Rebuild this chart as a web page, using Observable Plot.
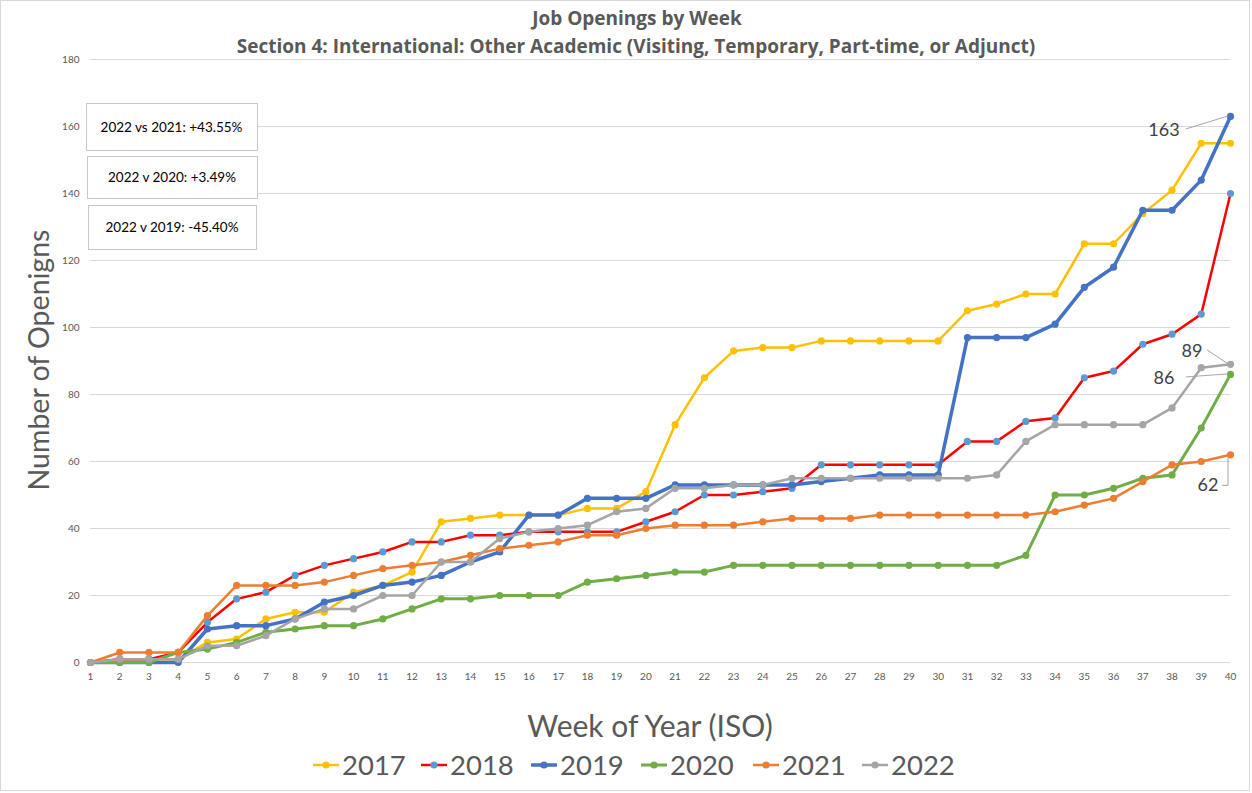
<!DOCTYPE html>
<html><head><meta charset="utf-8">
<script src="https://cdn.jsdelivr.net/npm/d3@7"></script>
<script src="https://cdn.jsdelivr.net/npm/@observablehq/plot@0.6"></script>
<style>
body{margin:0;background:#fff;}
#chart{width:1252px;height:793px;}
</style>
</head><body><div id="chart"></div>
<script>
const weeks = d3.range(1, 41);
const years = ["2017", "2018", "2019", "2020", "2021", "2022"];
const v2017 = [0,1,1,1,6,7,13,15,15,21,23,27,42,43,44,44,44,46,46,51,71,85,93,94,94,96,96,96,96,96,105,107,110,110,125,125,134,141,155,155];
const v2018 = [0,1,1,3,12,19,21,26,29,31,33,36,36,38,38,39,39,39,39,42,45,50,50,51,52,59,59,59,59,59,66,66,72,73,85,87,95,98,104,140];
const v2019 = [0,0,0,0,10,11,11,13,18,20,23,24,26,30,33,44,44,49,49,49,53,53,53,53,53,54,55,56,56,56,97,97,97,101,112,118,135,135,144,163];
const v2020 = [0,0,0,3,4,6,9,10,11,11,13,16,19,19,20,20,20,24,25,26,27,27,29,29,29,29,29,29,29,29,29,29,32,50,50,52,55,56,70,86];
const v2021 = [0,3,3,3,14,23,23,23,24,26,28,29,30,32,34,35,36,38,38,40,41,41,41,42,43,43,43,44,44,44,44,44,44,45,47,49,54,59,60,62];
const v2022 = [0,1,1,1,5,5,8,13,16,16,20,20,30,30,37,39,40,41,45,46,52,52,53,53,55,55,55,55,55,55,55,56,66,71,71,71,71,76,88,89];
const seriesValues = [v2017, v2018, v2019, v2020, v2021, v2022];
const lineColors = ["#FFC000", "#FF0000", "#4472C4", "#70AD47", "#ED7D31", "#A5A5A5"];
const markerColors = ["#FFC000", "#5B9BD5", "#4472C4", "#70AD47", "#ED7D31", "#A5A5A5"];
const lineWidths = [2.5, 2.5, 3.5, 3, 2.5, 2.5];
const yTicks = d3.range(0, 181, 20);
const comparisons = ["2022 vs 2021: +43.55%", "2022 v 2020: +3.49%", "2022 v 2019: -45.40%"];
const endLabels = [
  {year: "2019", value: 163, dx: -66, dy: 14},
  {year: "2022", value: 89, dx: -38, dy: -13},
  {year: "2020", value: 86, dx: -66, dy: 4},
  {year: "2021", value: 62, dx: -22, dy: 31}
];

const table = years.flatMap((yr, i) => weeks.map((w, j) => ({year: yr, week: w, value: seriesValues[i][j]})));

const seriesMarks = years.flatMap((yr, i) => {
  const d = table.filter(r => r.year === yr);
  return [
    Plot.line(d, {x: "week", y: "value", stroke: lineColors[i], strokeWidth: lineWidths[i], strokeLinejoin: "round"}),
    Plot.dot(d, {x: "week", y: "value", fill: markerColors[i], r: 3.6, stroke: "none"})
  ];
});

const FONT = "Lato, 'Open Sans', sans-serif";
const TFONT = "'Open Sans', Lato, sans-serif";
const W = 1252, H = 793;
const plot = Plot.plot({
  width: W, height: H,
  marginLeft: 90, marginRight: 22, marginTop: 59, marginBottom: 131,
  style: {background: "#fff", fontFamily: FONT, overflow: "visible"},
  x: {type: "linear", domain: [1, 40]},
  y: {domain: [0, 180]},
  marks: [
    Plot.gridY(yTicks, {stroke: "#d9d9d9", strokeOpacity: 1, strokeWidth: 1}),
    Plot.axisY(yTicks, {tickSize: 0, tickPadding: 11, fontSize: 10, fill: "#595959", label: null}),
    Plot.axisX(weeks, {tickSize: 0, tickPadding: 10, fontSize: 10, fill: "#595959", label: null, tickFormat: d => String(d)}),
    ...seriesMarks
  ]
});
document.getElementById("chart").appendChild(plot);

const svg = d3.select(plot);
const xs = plot.scale("x"), ys = plot.scale("y");

// border
svg.append("rect").attr("x", 0.5).attr("y", 0.5).attr("width", 1249).attr("height", 790)
  .attr("fill", "none").attr("stroke", "#d9d9d9");

// titles
svg.append("text").attr("x", 637).attr("y", 25).attr("text-anchor", "middle")
  .attr("font-family", TFONT).attr("font-weight", "bold").attr("font-size", 19).attr("fill", "#595959")
  .text("Job Openings by Week");
svg.append("text").attr("x", 636).attr("y", 53).attr("text-anchor", "middle")
  .attr("font-family", TFONT).attr("font-weight", "bold").attr("font-size", 19).attr("fill", "#595959")
  .text("Section 4: International: Other Academic (Visiting, Temporary, Part-time, or Adjunct)");

// axis titles
svg.append("text").attr("transform", "translate(49,360) rotate(-90)").attr("text-anchor", "middle")
  .attr("font-family", FONT).attr("font-size", 28.5).attr("fill", "#595959").text("Number of Openigns");
svg.append("text").attr("x", 650).attr("y", 737).attr("text-anchor", "middle")
  .attr("font-family", FONT).attr("font-size", 30).attr("fill", "#595959").text("Week of Year (ISO)");

// legend
const legendX = [313, 421, 531, 641, 753, 862];
years.forEach((yr, i) => {
  const g = svg.append("g").attr("transform", `translate(${legendX[i]},765)`);
  g.append("line").attr("x1", 0).attr("x2", 26).attr("y1", 0).attr("y2", 0)
    .attr("stroke", lineColors[i]).attr("stroke-width", lineWidths[i]);
  g.append("circle").attr("cx", 13).attr("cy", 0).attr("r", 3.6).attr("fill", markerColors[i]);
  g.append("text").attr("x", 29).attr("y", 10).attr("text-anchor", "start").attr("font-family", FONT).attr("font-size", 27.5)
    .attr("fill", "#595959").text(yr);
});

// comparison boxes
const boxes = [[86, 103, 171, 47], [87, 156, 170, 42], [88, 205, 168, 44]];
comparisons.forEach((t, i) => {
  const [bx, by, bw, bh] = boxes[i];
  svg.append("rect").attr("x", bx + 0.5).attr("y", by + 0.5).attr("width", bw).attr("height", bh)
    .attr("fill", "#fff").attr("stroke", "#c8c8c8");
  svg.append("text").attr("x", bx + bw / 2).attr("y", by + bh / 2 + 5).attr("text-anchor", "middle")
    .attr("font-family", FONT).attr("font-size", 13.5).attr("fill", "#000").text(t);
});

// end labels with leader lines
endLabels.forEach(d => {
  const px = xs.apply(40), py = ys.apply(d.value);
  const tx = px + d.dx, ty = py + d.dy;
  svg.append("text").attr("x", tx).attr("y", ty + 6).attr("text-anchor", "middle")
    .attr("font-family", FONT).attr("font-size", 18).attr("fill", "#404040").text(String(d.value));
  let path;
  if (d.year === "2021") path = `M${tx + 14},${ty} H${px - 2} V${py + 3}`;
  else path = `M${tx + (d.dx < -50 ? 22 : 15)},${ty - 1} L${px - 2},${py}`;
  svg.append("path").attr("d", path).attr("fill", "none").attr("stroke", "#a6a6a6").attr("stroke-width", 1);
});
</script>
</body></html>
